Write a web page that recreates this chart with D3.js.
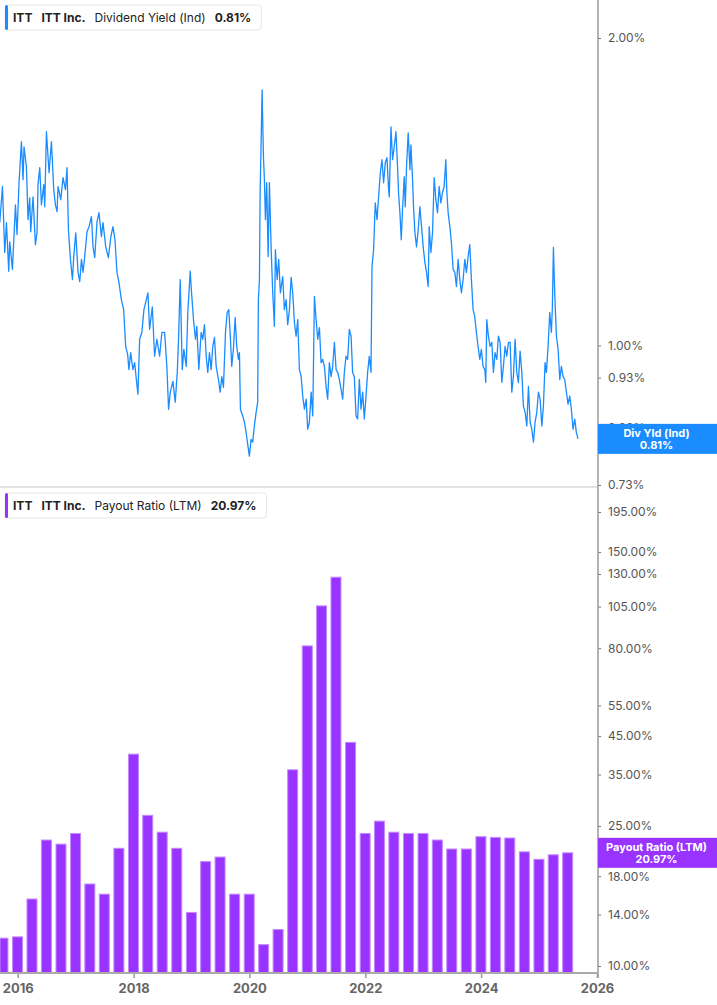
<!DOCTYPE html>
<html>
<head>
<meta charset="utf-8">
<script src="https://cdn.jsdelivr.net/npm/d3@7"></script>
<style>
  body { margin: 0; background: #fff; font-family: Inter, "Noto Sans", sans-serif; }
  .tick text { font-family: Inter, "Noto Sans", sans-serif; }
</style>
</head>
<body>
<div id="chart"></div>
<script>
// dividend yield (Ind), % -- decimal year / value
var yieldYears = [
  2015.690,2015.737,2015.776,2015.806,2015.845,2015.862,2015.909,2015.961,2015.988,2016.023,
  2016.064,2016.092,2016.109,2016.150,2016.178,2016.207,2016.224,2016.264,2016.305,2016.333,
  2016.350,2016.380,2016.409,2016.449,2016.466,2016.495,2016.540,2016.581,2016.621,2016.650,
  2016.678,2016.695,2016.742,2016.781,2016.823,2016.850,2016.874,2016.909,2016.943,2016.966,
  2017.000,2017.040,2017.069,2017.099,2017.126,2017.155,2017.195,2017.230,2017.271,2017.299,
  2017.328,2017.368,2017.402,2017.443,2017.471,2017.518,2017.564,2017.604,2017.643,2017.678,
  2017.712,2017.747,2017.788,2017.828,2017.862,2017.897,2017.919,2017.949,2017.988,2018.018,
  2018.047,2018.074,2018.104,2018.143,2018.178,2018.219,2018.247,2018.276,2018.323,2018.362,
  2018.402,2018.449,2018.488,2018.535,2018.574,2018.604,2018.633,2018.678,2018.719,2018.754,
  2018.776,2018.805,2018.840,2018.868,2018.909,2018.936,2018.978,2018.995,2019.034,2019.069,
  2019.092,2019.126,2019.167,2019.195,2019.224,2019.254,2019.281,2019.310,2019.340,2019.367,
  2019.397,2019.426,2019.466,2019.495,2019.523,2019.552,2019.587,2019.616,2019.643,2019.667,
  2019.695,2019.724,2019.754,2019.781,2019.811,2019.828,2019.845,2019.885,2019.914,2019.943,
  2019.971,2020.000,2020.029,2020.057,2020.086,2020.116,2020.143,2020.155,2020.173,2020.185,
  2020.202,2020.219,2020.242,2020.259,2020.276,2020.298,2020.323,2020.345,2020.374,2020.402,
  2020.431,2020.448,2020.478,2020.505,2020.534,2020.574,2020.603,2020.633,2020.660,2020.690,
  2020.719,2020.747,2020.776,2020.805,2020.833,2020.862,2020.892,2020.919,2020.948,2020.978,
  2021.005,2021.034,2021.064,2021.092,2021.121,2021.150,2021.178,2021.207,2021.236,2021.264,
  2021.293,2021.322,2021.350,2021.379,2021.409,2021.436,2021.466,2021.495,2021.523,2021.552,
  2021.581,2021.609,2021.638,2021.667,2021.695,2021.724,2021.754,2021.781,2021.810,2021.840,
  2021.868,2021.897,2021.926,2021.954,2021.983,2022.012,2022.040,2022.069,2022.098,2022.116,
  2022.143,2022.172,2022.202,2022.230,2022.259,2022.288,2022.316,2022.345,2022.374,2022.402,
  2022.414,2022.443,2022.471,2022.500,2022.529,2022.557,2022.574,2022.598,2022.621,2022.643,
  2022.672,2022.690,2022.712,2022.741,2022.771,2022.788,2022.816,2022.833,2022.857,2022.885,
  2022.914,2022.943,2022.971,2023.000,2023.029,2023.057,2023.086,2023.104,2023.133,2023.161,
  2023.190,2023.219,2023.247,2023.276,2023.305,2023.333,2023.362,2023.391,2023.409,2023.431,
  2023.460,2023.488,2023.517,2023.547,2023.574,2023.603,2023.633,2023.660,2023.690,2023.719,
  2023.747,2023.776,2023.805,2023.833,2023.862,2023.891,2023.919,2023.948,2023.978,2024.005,
  2024.034,2024.064,2024.081,2024.098,2024.126,2024.155,2024.185,2024.212,2024.241,2024.271,
  2024.298,2024.328,2024.357,2024.385,2024.414,2024.443,2024.471,2024.500,2024.529,2024.557,
  2024.586,2024.615,2024.643,2024.672,2024.702,2024.729,2024.759,2024.788,2024.816,2024.845,
  2024.874,2024.902,2024.931,2024.960,2024.988,2025.017,2025.047,2025.074,2025.103,2025.126,
  2025.155,2025.184,2025.212,2025.229,2025.247,2025.271,2025.299,2025.328,2025.357,2025.385,
  2025.414,2025.443,2025.471,2025.500,2025.529,2025.557,2025.586,2025.616,2025.643,2025.672
];
var yieldValues = [
  1.319,1.431,1.233,1.319,1.182,1.263,1.187,1.373,1.284,1.443,
  1.583,1.453,1.565,1.496,1.328,1.395,1.292,1.398,1.255,1.289,
  1.437,1.493,1.373,1.437,1.367,1.619,1.476,1.583,1.421,1.373,
  1.352,1.431,1.389,1.460,1.421,1.493,1.298,1.214,1.160,1.222,
  1.289,1.179,1.155,1.214,1.179,1.222,1.292,1.307,1.337,1.249,
  1.219,1.322,1.349,1.278,1.319,1.249,1.219,1.275,1.307,1.269,
  1.179,1.152,1.109,1.084,0.998,0.980,0.947,0.984,0.947,0.962,
  0.926,0.896,1.014,1.030,1.084,1.109,1.126,1.037,1.091,0.976,
  1.014,0.976,1.030,1.030,0.954,0.866,0.900,0.922,0.880,0.941,
  1.014,1.160,0.947,0.991,0.954,1.077,1.182,1.139,1.060,1.014,
  1.044,0.947,1.030,1.014,1.048,0.976,0.941,0.984,0.947,0.998,
  1.018,0.954,0.926,0.900,0.932,0.910,1.030,1.077,1.084,1.030,
  0.954,0.991,1.065,0.998,0.969,0.984,0.866,0.853,0.841,0.822,
  0.800,0.779,0.809,0.804,0.834,0.860,0.880,1.109,1.160,1.411,
  1.579,1.779,1.530,1.453,1.328,1.443,1.222,1.443,1.249,1.126,
  1.044,1.241,1.160,1.214,1.126,1.168,1.084,1.109,1.048,1.084,
  1.166,1.126,1.053,1.021,1.060,0.947,0.932,0.892,0.866,0.886,
  0.828,0.841,0.900,0.853,1.117,1.060,1.014,1.041,0.962,0.969,
  0.954,0.912,0.886,0.962,0.932,0.954,1.007,0.947,0.941,0.926,
  0.906,0.886,0.941,0.976,0.969,1.037,1.021,0.941,0.932,0.853,
  0.847,0.926,0.866,0.900,0.847,0.892,0.941,0.976,0.941,1.195,
  1.241,1.379,1.328,1.398,1.476,1.520,1.443,1.510,1.527,1.421,
  1.398,1.637,1.520,1.565,1.619,1.496,1.411,1.349,1.269,1.358,
  1.463,1.367,1.496,1.615,1.486,1.572,1.453,1.367,1.289,1.249,
  1.298,1.367,1.307,1.249,1.206,1.179,1.142,1.307,1.233,1.289,
  1.460,1.389,1.349,1.431,1.379,1.411,1.431,1.520,1.411,1.349,
  1.307,1.261,1.187,1.179,1.142,1.214,1.160,1.126,1.160,1.214,
  1.179,1.222,1.255,1.160,1.084,1.067,1.030,0.998,0.969,0.991,
  0.954,0.947,0.920,1.060,1.021,0.998,1.007,0.941,0.984,0.969,
  1.021,1.007,0.920,0.954,0.998,0.976,1.007,1.007,0.900,0.932,
  1.014,0.941,0.920,0.987,0.941,0.872,0.860,0.834,0.912,0.841,
  0.828,0.804,0.841,0.860,0.900,0.886,0.834,0.872,0.962,0.941,
  0.998,1.077,1.030,1.091,1.247,1.117,1.021,0.991,0.926,0.954,
  0.932,0.926,0.900,0.876,0.892,0.866,0.828,0.847,0.822,0.810
];

// payout ratio (LTM), % -- one bar per quarter end
var payoutQuarters = [
  "2015-09-30","2015-12-31","2016-03-31","2016-06-30","2016-09-30","2016-12-31",
  "2017-03-31","2017-06-30","2017-09-30","2017-12-31","2018-03-31","2018-06-30",
  "2018-09-30","2018-12-31","2019-03-31","2019-06-30","2019-09-30","2019-12-31",
  "2020-03-31","2020-06-30","2020-09-30","2020-12-31","2021-03-31","2021-06-30",
  "2021-09-30","2021-12-31","2022-03-31","2022-06-30","2022-09-30","2022-12-31",
  "2023-03-31","2023-06-30","2023-09-30","2023-12-31","2024-03-31","2024-06-30",
  "2024-09-30","2024-12-31","2025-03-31","2025-06-30"
];
var payoutValues = [
  12.0,12.1,15.5,22.8,22.2,23.8,
  17.1,16.0,21.6,40.0,26.8,24.0,
  21.6,14.2,19.8,20.4,16.0,16.0,
  11.5,12.7,36.1,81.2,105.5,127.3,
  43.2,23.8,25.8,24.0,23.8,23.8,
  22.8,21.5,21.5,23.3,23.2,23.1,
  21.1,20.1,20.7,20.97
];

var yieldTicks = [0.73, 0.83, 0.93, 1.00, 2.00];
var payoutTicks = [10, 14, 18, 25, 35, 45, 55, 80, 105, 130, 150, 195];
var yearTicks = [2016, 2018, 2020, 2022, 2024, 2026];

var width = 717, height = 1005;
var plotRight = 598;
var fontStack = 'Inter, "Noto Sans", sans-serif';

function yearToDate(y) {
    var yr = Math.floor(y);
    var a = new Date(yr, 0, 1), b = new Date(yr + 1, 0, 1);
    return new Date(+a + (y - yr) * (b - a));
}
var parseDay = d3.timeParse("%Y-%m-%d");

var svg = d3.select("#chart").append("svg")
    .attr("width", width)
    .attr("height", height)
    .style("font-family", fontStack);

var x = d3.scaleTime()
    .domain([new Date(2016, 0, 1), new Date(2026, 0, 1)])
    .range([17.7, 597]);

var yTop = d3.scaleLog().domain([0.73, 2]).range([485, 38]);
var yBot = d3.scaleLog().domain([10, 195]).range([966, 512]);

// separator between panels
svg.append("line")
    .attr("x1", 0).attr("x2", plotRight)
    .attr("y1", 487).attr("y2", 487)
    .attr("stroke", "#e3e3e3").attr("stroke-width", 2);

// ---- top panel: dividend yield line
var yieldData = yieldYears.map(function (d, i) { return [yearToDate(d), yieldValues[i]]; });

svg.append("defs").append("clipPath").attr("id", "clipTop")
    .append("rect").attr("x", 0).attr("y", 0).attr("width", plotRight).attr("height", 487);

svg.append("path")
    .datum(yieldData)
    .attr("clip-path", "url(#clipTop)")
    .attr("fill", "none")
    .attr("stroke", "#1a8cff")
    .attr("stroke-width", 1.3)
    .attr("stroke-linejoin", "round")
    .attr("d", d3.line().x(d => x(d[0])).y(d => yTop(d[1])));

// ---- bottom panel: payout ratio bars
var barW = 10;
svg.selectAll("rect.bar").data(payoutValues).enter().append("rect")
    .attr("class", "bar")
    .attr("x", (d, i) => Math.max(0, x(parseDay(payoutQuarters[i])) - barW / 2))
    .attr("width", (d, i) => {
        var left = x(parseDay(payoutQuarters[i])) - barW / 2;
        return left < 0 ? barW + left : barW;
    })
    .attr("y", d => yBot(d))
    .attr("height", d => 973 - yBot(d))
    .attr("fill", "#9933ff")
    .attr("stroke", "#c48bff")
    .attr("stroke-width", 1);

// ---- right axes
function styleAxis(g) {
    g.select(".domain").remove();
    g.selectAll(".tick line").attr("stroke", "#777");
    g.selectAll(".tick text")
        .attr("fill", "#555")
        .style("font-size", "12px")
        .style("font-family", fontStack);
}

svg.append("g")
    .attr("transform", "translate(" + plotRight + ",0)")
    .call(d3.axisRight(yTop).tickValues(yieldTicks).tickSize(3).tickPadding(7)
        .tickFormat(d => d.toFixed(2) + "%"))
    .call(styleAxis);

svg.append("g")
    .attr("transform", "translate(" + plotRight + ",0)")
    .call(d3.axisRight(yBot).tickValues(payoutTicks).tickSize(3).tickPadding(7)
        .tickFormat(d => d.toFixed(2) + "%"))
    .call(styleAxis);

svg.append("line")
    .attr("x1", plotRight).attr("x2", plotRight)
    .attr("y1", 0).attr("y2", 978)
    .attr("stroke", "#9a9a9a").attr("stroke-width", 1.5);

// ---- x axis
var xAxisG = svg.append("g")
    .attr("transform", "translate(0,973)")
    .call(d3.axisBottom(x).tickValues(yearTicks.map(y => new Date(y, 0, 1)))
        .tickSize(5).tickPadding(6).tickFormat(d3.timeFormat("%Y")));
xAxisG.select(".domain").remove();
xAxisG.selectAll(".tick line").attr("stroke", "#999").attr("stroke-width", 1.5);
xAxisG.selectAll(".tick text")
    .attr("fill", "#666")
    .style("font-size", "13px")
    .style("font-weight", "700")
    .style("font-family", fontStack);
svg.append("line")
    .attr("x1", 0).attr("x2", plotRight)
    .attr("y1", 973).attr("y2", 973)
    .attr("stroke", "#aaa").attr("stroke-width", 2);

// ---- legends
function legend(y, color, parts) {
    var g = svg.append("g").attr("transform", "translate(5," + y + ")");
    var box = g.append("rect")
        .attr("x", 0).attr("y", 0).attr("height", 25).attr("rx", 3)
        .attr("fill", "#fff").attr("stroke", "#e6e6e6");
    g.append("rect").attr("x", 0).attr("y", 0).attr("width", 3).attr("height", 25)
        .attr("rx", 1.5).attr("fill", color);
    var t = g.append("text").attr("x", 8).attr("y", 17)
        .attr("fill", "#222").style("font-size", "12px");
    parts.forEach(function (p, i) {
        t.append("tspan")
            .attr("dx", i === 0 ? 0 : 9)
            .style("font-weight", p[1] ? "700" : "400")
            .text(p[0]);
    });
    var bb = t.node().getBBox();
    box.attr("width", bb.x + bb.width + 10);
}
legend(5, "#1a8cff", [["ITT", 1], ["ITT Inc.", 1], ["Dividend Yield (Ind)", 0], ["0.81%", 1]]);
legend(493, "#9933ff", [["ITT", 1], ["ITT Inc.", 1], ["Payout Ratio (LTM)", 0], ["20.97%", 1]]);

// ---- last value labels on the axis
function valueTag(yc, color, line1, line2) {
    svg.append("rect")
        .attr("x", plotRight).attr("y", yc - 15)
        .attr("width", width - plotRight).attr("height", 30)
        .attr("fill", color);
    var cx = (plotRight + width) / 2 - 1;
    var t = svg.append("text")
        .attr("text-anchor", "middle")
        .attr("fill", "#fff")
        .style("font-size", "11px")
        .style("font-weight", "700");
    t.append("tspan").attr("x", cx).attr("y", yc - 2).text(line1);
    t.append("tspan").attr("x", cx).attr("y", yc + 10).text(line2);
}
valueTag(yTop(0.81), "#1a8cff", "Div Yld (Ind)", "0.81%");
valueTag(yBot(20.97), "#9933ff", "Payout Ratio (LTM)", "20.97%");
</script>
</body>
</html>
